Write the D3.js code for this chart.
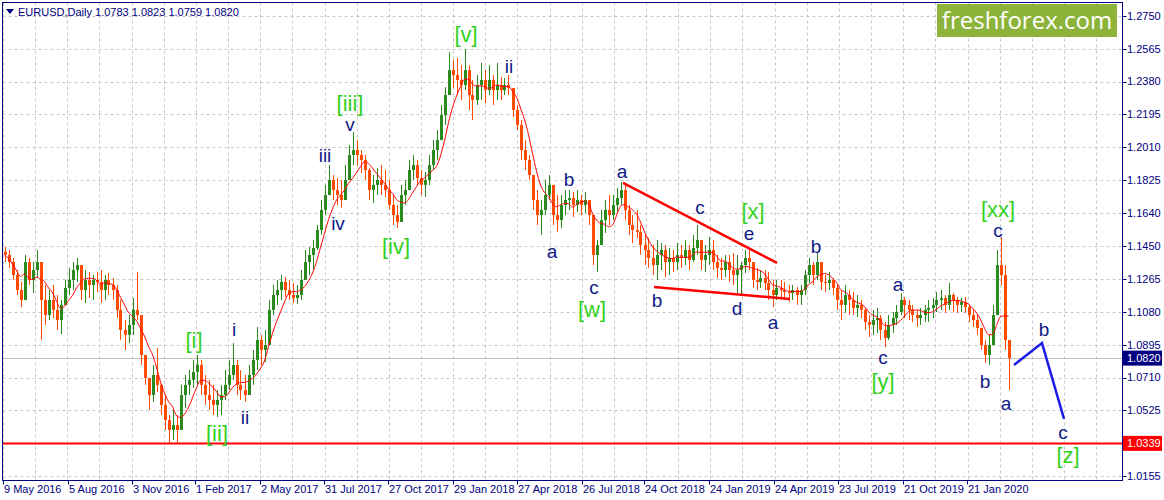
<!DOCTYPE html>
<html><head><meta charset="utf-8">
<script src="https://cdn.jsdelivr.net/npm/d3@7/dist/d3.min.js"></script>
<style>body{margin:0;background:#fff;}svg{display:block;}</style>
</head><body><svg id="c" width="1164" height="500"></svg>
<script>
// ---------- data ----------
const symbolTitle = "EURUSD,Daily";
const lastOHLC = ["1.0783", "1.0823", "1.0759", "1.0820"];
const priceTicks = [1.2750, 1.2565, 1.2380, 1.2195, 1.2010, 1.1825, 1.1640, 1.1450, 1.1265, 1.1080, 1.0895, 1.0710, 1.0525, 1.0340, 1.0155];
const dateLabels = ["9 May 2016", "5 Aug 2016", "3 Nov 2016", "1 Feb 2017", "2 May 2017", "31 Jul 2017", "27 Oct 2017", "29 Jan 2018", "27 Apr 2018", "26 Jul 2018", "24 Oct 2018", "24 Jan 2019", "24 Apr 2019", "23 Jul 2019", "21 Oct 2019", "21 Jan 2020"];
const dateDays = [0, 65, 129, 192, 257, 321, 385, 450, 514, 579, 641, 706, 771, 835, 900, 964];
const bidPrice = 1.0820;
const supportPrice = 1.0339;
const firstOpen = 1.1420;
const barDays = 4;   // each bar aggregates four trading days

const highs = [
1.1447,1.1430,1.1385,1.1317,1.1250,1.1402,1.1385,1.1362,1.1430,1.1362,
1.1233,1.1204,1.1233,1.1176,1.1148,1.1261,1.1329,1.1362,1.1385,1.1345,
1.1317,1.1306,1.1289,1.1306,1.1317,1.1289,1.1300,1.1272,1.1233,1.1148,
1.1035,1.1063,1.1159,1.1306,1.1063,1.0838,1.0708,1.0781,1.0877,1.0669,
1.0612,1.0499,1.0528,1.0499,1.0669,1.0725,1.0753,1.0810,1.0838,1.0810,
1.0725,1.0697,1.0669,1.0640,1.0669,1.0753,1.0810,1.0905,1.0810,1.0753,
1.0725,1.0781,1.0866,1.0996,1.0951,1.0979,1.1148,1.1233,1.1261,1.1289,
1.1278,1.1261,1.1244,1.1233,1.1317,1.1430,1.1447,1.1486,1.1571,1.1712,
1.1797,1.1909,1.1853,1.1836,1.1825,1.1909,1.2022,1.2096,1.2050,1.1994,
1.1966,1.1892,1.1853,1.1892,1.1909,1.1881,1.1825,1.1740,1.1684,1.1797,
1.1825,1.1938,1.1966,1.1938,1.1881,1.1870,1.1966,1.2050,1.2107,1.2248,
1.2349,1.2547,1.2502,1.2513,1.2473,1.2564,1.2473,1.2389,1.2417,1.2485,
1.2445,1.2473,1.2417,1.2485,1.2406,1.2400,1.2417,1.2344,1.2248,1.2163,
1.2050,1.1966,1.1853,1.1768,1.1712,1.1825,1.1853,1.1768,1.1740,1.1740,
1.1768,1.1768,1.1757,1.1768,1.1740,1.1757,1.1712,1.1627,1.1486,1.1656,
1.1712,1.1740,1.1740,1.1780,1.1814,1.1797,1.1684,1.1627,1.1656,1.1571,
1.1515,1.1498,1.1458,1.1486,1.1469,1.1458,1.1441,1.1430,1.1469,1.1458,
1.1486,1.1458,1.1515,1.1571,1.1486,1.1458,1.1503,1.1486,1.1402,1.1385,
1.1402,1.1402,1.1413,1.1402,1.1362,1.1430,1.1447,1.1345,1.1329,1.1317,
1.1317,1.1306,1.1261,1.1261,1.1261,1.1250,1.1233,1.1233,1.1221,1.1233,
1.1317,1.1385,1.1362,1.1413,1.1345,1.1289,1.1306,1.1272,1.1233,1.1204,
1.1233,1.1204,1.1193,1.1176,1.1148,1.1103,1.1063,1.1092,1.1103,1.1063,
1.1024,1.1063,1.1080,1.1120,1.1187,1.1165,1.1148,1.1120,1.1092,1.1103,
1.1120,1.1148,1.1159,1.1193,1.1204,1.1176,1.1244,1.1187,1.1165,1.1159,
1.1165,1.1120,1.1092,1.1063,1.0990,1.0922,1.0951,1.1120,1.1430,1.1503,
1.1345,1.0922];

const lows = [
1.1362,1.1329,1.1261,1.1176,1.1108,1.1159,1.1233,1.1187,1.1272,1.0922,
1.1007,1.1035,1.1046,1.0979,1.0956,1.1120,1.1176,1.1204,1.1250,1.1148,
1.1131,1.1159,1.1148,1.1193,1.1131,1.1148,1.1176,1.1148,1.1046,1.0922,
1.0866,1.0905,1.0951,1.1035,1.0781,1.0669,1.0528,1.0573,1.0629,1.0499,
1.0415,1.0342,1.0358,1.0342,1.0443,1.0539,1.0612,1.0652,1.0669,1.0612,
1.0556,1.0528,1.0499,1.0488,1.0499,1.0584,1.0640,1.0697,1.0612,1.0584,
1.0573,1.0612,1.0669,1.0753,1.0781,1.0798,1.0922,1.1063,1.1120,1.1148,
1.1165,1.1148,1.1131,1.1125,1.1148,1.1261,1.1289,1.1317,1.1430,1.1515,
1.1627,1.1740,1.1712,1.1684,1.1667,1.1712,1.1853,1.1909,1.1909,1.1864,
1.1825,1.1712,1.1695,1.1740,1.1740,1.1729,1.1656,1.1571,1.1554,1.1627,
1.1684,1.1768,1.1825,1.1797,1.1740,1.1729,1.1797,1.1881,1.1938,1.2050,
1.2135,1.2332,1.2344,1.2304,1.2276,1.2332,1.2220,1.2163,1.2248,1.2276,
1.2259,1.2304,1.2248,1.2276,1.2276,1.2304,1.2304,1.2180,1.2107,1.1938,
1.1881,1.1825,1.1656,1.1571,1.1515,1.1627,1.1712,1.1571,1.1532,1.1554,
1.1627,1.1656,1.1616,1.1644,1.1627,1.1639,1.1571,1.1345,1.1306,1.1458,
1.1526,1.1571,1.1599,1.1644,1.1684,1.1599,1.1515,1.1469,1.1498,1.1402,
1.1345,1.1329,1.1289,1.1261,1.1317,1.1278,1.1289,1.1306,1.1317,1.1329,
1.1345,1.1317,1.1362,1.1402,1.1317,1.1306,1.1345,1.1317,1.1272,1.1261,
1.1278,1.1250,1.1233,1.1187,1.1176,1.1300,1.1317,1.1216,1.1204,1.1216,
1.1204,1.1148,1.1108,1.1148,1.1159,1.1148,1.1137,1.1148,1.1120,1.1120,
1.1176,1.1244,1.1233,1.1261,1.1204,1.1193,1.1204,1.1176,1.1092,1.1035,
1.1075,1.1063,1.1063,1.1052,1.1046,1.0979,1.0939,1.0951,1.0962,1.0922,
1.0883,1.0922,1.0962,1.1007,1.1063,1.1046,1.1035,1.1024,1.0996,1.1007,
1.1024,1.1024,1.1046,1.1080,1.1092,1.1075,1.1092,1.1080,1.1075,1.1080,
1.1075,1.1024,1.0996,1.0951,1.0866,1.0793,1.0781,1.0894,1.1063,1.1233,
1.0866,1.0640];

const closes = [
1.1402,1.1362,1.1289,1.1204,1.1148,1.1362,1.1261,1.1317,1.1362,1.1148,
1.1063,1.1148,1.1092,1.1035,1.1120,1.1216,1.1261,1.1317,1.1345,1.1204,
1.1261,1.1233,1.1261,1.1250,1.1204,1.1261,1.1233,1.1204,1.1092,1.0979,
1.0951,1.1007,1.1092,1.1063,1.0838,1.0708,1.0612,1.0725,1.0669,1.0556,
1.0471,1.0415,1.0443,1.0415,1.0612,1.0669,1.0697,1.0742,1.0781,1.0669,
1.0612,1.0584,1.0556,1.0584,1.0612,1.0669,1.0725,1.0781,1.0669,1.0640,
1.0612,1.0725,1.0810,1.0922,1.0866,1.0894,1.1092,1.1176,1.1204,1.1250,
1.1204,1.1176,1.1159,1.1176,1.1261,1.1362,1.1402,1.1441,1.1543,1.1656,
1.1740,1.1825,1.1768,1.1740,1.1712,1.1825,1.1966,1.1994,1.1966,1.1938,
1.1881,1.1768,1.1797,1.1825,1.1797,1.1768,1.1684,1.1627,1.1588,1.1740,
1.1768,1.1881,1.1909,1.1836,1.1797,1.1825,1.1909,1.1994,1.2050,1.2191,
1.2304,1.2445,1.2417,1.2389,1.2361,1.2445,1.2304,1.2276,1.2361,1.2389,
1.2332,1.2389,1.2332,1.2361,1.2332,1.2361,1.2344,1.2220,1.2135,1.1994,
1.1938,1.1853,1.1712,1.1627,1.1656,1.1740,1.1797,1.1627,1.1599,1.1684,
1.1712,1.1723,1.1684,1.1712,1.1684,1.1712,1.1627,1.1402,1.1458,1.1599,
1.1656,1.1627,1.1684,1.1723,1.1768,1.1656,1.1571,1.1543,1.1532,1.1458,
1.1430,1.1385,1.1345,1.1402,1.1430,1.1362,1.1385,1.1362,1.1402,1.1385,
1.1430,1.1374,1.1441,1.1486,1.1374,1.1402,1.1430,1.1362,1.1329,1.1317,
1.1362,1.1317,1.1289,1.1317,1.1345,1.1385,1.1362,1.1261,1.1250,1.1272,
1.1244,1.1204,1.1176,1.1216,1.1204,1.1193,1.1187,1.1204,1.1176,1.1204,
1.1289,1.1345,1.1289,1.1362,1.1250,1.1244,1.1261,1.1216,1.1148,1.1120,
1.1176,1.1148,1.1103,1.1120,1.1092,1.1024,1.1007,1.1035,1.1046,1.0979,
1.0934,1.1007,1.1046,1.1080,1.1148,1.1120,1.1092,1.1063,1.1046,1.1063,
1.1092,1.1103,1.1120,1.1148,1.1159,1.1120,1.1176,1.1148,1.1120,1.1137,
1.1108,1.1063,1.1035,1.0990,1.0894,1.0838,1.0894,1.1063,1.1345,1.1289,
1.0922,1.0820];

// Elliott wave labels: [text, trading day, price, level]
const waveLabels = [
  ["[i]",191,1.0922,"major"],["[ii]",214,1.0398,"major"],["[iii]",347,1.2259,"major"],
  ["[iv]",393,1.1453,"major"],["[v]",463,1.2648,"major"],["[w]",589,1.1097,"major"],
  ["[x]",750,1.1650,"major"],["[y]",880,1.0691,"major"],["[xx]",995,1.1661,"major"],
  ["[z]",1065,1.0274,"major"],
  ["i",231,1.0984,"minor"],["ii",242,1.0488,"minor"],["iii",322,1.1966,"minor"],
  ["iv",335,1.1582,"minor"],["v",347,1.2141,"minor"],["ii",506,1.2468,"minor"],
  ["a",549,1.1424,"minor"],["b",566,1.1830,"minor"],["c",591,1.1221,"minor"],
  ["a",619,1.1876,"minor"],["c",697,1.1673,"minor"],["b",654,1.1148,"minor"],
  ["e",746,1.1526,"minor"],["d",734,1.1103,"minor"],["a",770,1.1024,"minor"],
  ["b",813,1.1453,"minor"],["c",880,1.0827,"minor"],["a",895,1.1238,"minor"],
  ["c",995,1.1543,"minor"],["b",982,1.0691,"minor"],["a",1003,1.0567,"minor"],
  ["b",1041,1.0984,"minor"],["c",1060,1.0404,"minor"]
];
// triangle trend lines [day1, price1, day2, price2]
const trendLines = [[620, 1.1808, 774, 1.1357], [651, 1.1221, 787, 1.1154]];
// projected path [day, price]
const projection = [[1011, 1.0781], [1039, 1.0905], [1061, 1.0477]];
const maPeriodBars = 6;

// ---------- layout ----------
const L = 2.5, T = 2.5, R = 1122.5, B = 480.5;
const navy = "#000080";
const svg = d3.select("#c");
const x = d3.scaleLinear().domain([0, 1000]).range([3, 1003]);
const y = d3.scaleLinear().domain([1.0155, 1.2750]).range([476, 16]);
const plot = svg.append("g");
svg.append("clipPath").attr("id","clip").append("rect")
  .attr("x", L).attr("y", T).attr("width", R - L).attr("height", B - T);
plot.attr("clip-path","url(#clip)");

// grid
const gridDays = d3.range(0, 1125, 32.15);
plot.append("g").selectAll("line").data(gridDays).join("line")
  .attr("x1", d => Math.round(x(d)) + 0.5).attr("x2", d => Math.round(x(d)) + 0.5)
  .attr("y1", T).attr("y2", B)
  .attr("stroke", "#c8c8c8").attr("stroke-dasharray", "3,3");
plot.append("g").selectAll("line").data(priceTicks).join("line")
  .attr("y1", d => Math.round(y(d)) + 0.5).attr("y2", d => Math.round(y(d)) + 0.5)
  .attr("x1", L).attr("x2", R)
  .attr("stroke", "#c8c8c8").attr("stroke-dasharray", "3,3");

// bid line
plot.append("line").attr("x1", L).attr("x2", R)
  .attr("y1", Math.round(y(bidPrice)) + 0.5).attr("y2", Math.round(y(bidPrice)) + 0.5)
  .attr("stroke", "#c0c0c0");

// bars
const bars = closes.map((c, i) => ({
  d: i * barDays + 1.5,
  o: i === 0 ? firstOpen : closes[i - 1],
  h: highs[i], l: lows[i], c: c
}));
const up = "#2a8a1e", dn = "#ff4a00";
const gb = plot.append("g");
gb.selectAll("line").data(bars).join("line")
  .attr("x1", d => Math.round(x(d.d)) + 0.5).attr("x2", d => Math.round(x(d.d)) + 0.5)
  .attr("y1", d => y(d.h)).attr("y2", d => y(d.l))
  .attr("stroke", d => d.c >= d.o ? up : dn).attr("stroke-width", 1);
gb.selectAll("rect").data(bars).join("rect")
  .attr("x", d => Math.round(x(d.d)) - 1).attr("width", 3)
  .attr("y", d => Math.min(y(d.o), y(d.c)))
  .attr("height", d => Math.max(1, Math.abs(y(d.o) - y(d.c))))
  .attr("fill", d => d.c >= d.o ? up : dn);

// moving average
const ma = bars.map((b, i) => {
  const s = closes.slice(Math.max(0, i - maPeriodBars + 1), i + 1);
  return { d: b.d, v: d3.mean(s) };
});
plot.append("path").datum(ma)
  .attr("d", d3.line().x(d => x(d.d)).y(d => y(d.v)).curve(d3.curveMonotoneX))
  .attr("fill", "none").attr("stroke", "#ff0000").attr("stroke-width", 1);

// support line
plot.append("line").attr("x1", L).attr("x2", R)
  .attr("y1", y(supportPrice)).attr("y2", y(supportPrice))
  .attr("stroke", "#ff0000").attr("stroke-width", 2);

// trend lines
plot.append("g").selectAll("line").data(trendLines).join("line")
  .attr("x1", d => x(d[0])).attr("y1", d => y(d[1]))
  .attr("x2", d => x(d[2])).attr("y2", d => y(d[3]))
  .attr("stroke", "#ff0000").attr("stroke-width", 2.5);

// projection
plot.append("path").datum(projection)
  .attr("d", d3.line().x(d => x(d[0])).y(d => y(d[1])))
  .attr("fill", "none").attr("stroke", "#1c1ce8").attr("stroke-width", 2.5);

// wave labels
plot.append("g").selectAll("text").data(waveLabels).join("text")
  .attr("x", d => x(d[1])).attr("y", d => y(d[2]))
  .attr("dy", "0.36em").attr("text-anchor", "middle")
  .attr("font-family", "Liberation Sans, Arial, sans-serif")
  .attr("font-size", d => d[3] === "major" ? 22 : 19)
  .attr("fill", d => d[3] === "major" ? "#33d11f" : "#0e1a86")
  .text(d => d[0]);

// frame
svg.append("rect").attr("x", L).attr("y", T).attr("width", R - L).attr("height", B - T)
  .attr("fill", "none").attr("stroke", navy).attr("stroke-width", 1);

// right axis
const ax = svg.append("g").attr("font-family", "Liberation Sans, Arial, sans-serif")
  .attr("font-size", 11).attr("fill", navy);
ax.selectAll("line.yt").data(priceTicks).join("line").attr("class","yt")
  .attr("x1", R).attr("x2", R + 4)
  .attr("y1", d => Math.round(y(d)) + 0.5).attr("y2", d => Math.round(y(d)) + 0.5)
  .attr("stroke", navy);
ax.selectAll("text.yl").data(priceTicks).join("text").attr("class","yl")
  .attr("x", 1127).attr("y", d => y(d)).attr("dy", "0.35em")
  .text(d => d.toFixed(4));
// bottom axis
ax.selectAll("line.xt").data(dateDays).join("line").attr("class","xt")
  .attr("x1", d => Math.round(x(d)) + 0.5).attr("x2", d => Math.round(x(d)) + 0.5)
  .attr("y1", B).attr("y2", B + 4).attr("stroke", navy);
ax.selectAll("text.xl").data(dateDays).join("text").attr("class","xl")
  .attr("x", d => x(d) + 1).attr("y", 493)
  .text((d, i) => dateLabels[i]);

// price boxes
function priceBox(p, fill) {
  const g = svg.append("g");
  g.append("rect").attr("x", 1123).attr("y", y(p) - 7.5).attr("width", 39).attr("height", 15).attr("fill", fill);
  g.append("text").attr("x", 1127).attr("y", y(p)).attr("dy", "0.35em")
    .attr("font-family", "Liberation Sans, Arial, sans-serif").attr("font-size", 11)
    .attr("fill", "#fff").text(p.toFixed(4));
}
priceBox(bidPrice, "#000080");
priceBox(supportPrice, "#ff0000");

// title
svg.append("path").attr("d", "M6,9 L14,9 L10,14 Z").attr("fill", navy);
svg.append("text").attr("x", 18).attr("y", 16)
  .attr("font-family", "Liberation Sans, Arial, sans-serif").attr("font-size", 11)
  .attr("fill", navy).text(symbolTitle + "  " + lastOHLC.join(" "));

// logo
svg.append("rect").attr("x", 937).attr("y", 4).attr("width", 180).attr("height", 33).attr("fill", "#8db43a");
svg.append("text").attr("x", 1027).attr("y", 21).attr("dy", "0.35em").attr("text-anchor", "middle")
  .attr("font-family", "Open Sans, sans-serif").attr("font-size", 24).attr("fill", "#fff")
  .text("freshforex.com");
</script></body></html>
